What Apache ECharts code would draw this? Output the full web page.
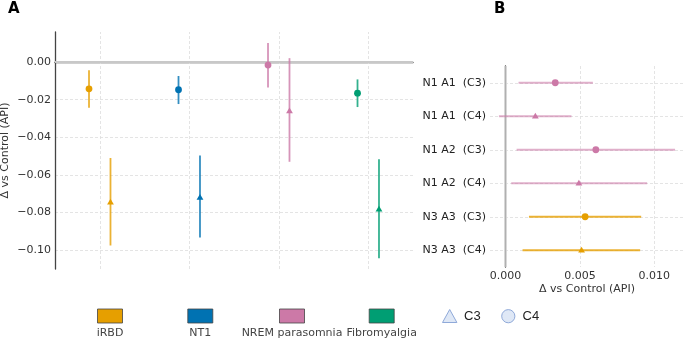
<!DOCTYPE html>
<html>
<head>
<meta charset="utf-8">
<script src="https://cdn.jsdelivr.net/npm/echarts@6/dist/echarts.min.js"></script>
<style>
html,body{margin:0;padding:0;background:#fff;}
#chart{width:685px;height:340px;}
</style>
</head>
<body>
<div id="chart"></div>
<script>
// ---- Panel A data ----
const groups = ['iRBD', 'NT1', 'NREM parasomnia', 'Fibromyalgia'];
const groupColors = ['#E69F00', '#0072B2', '#CC79A7', '#009E73'];
// circle markers (C4)
const c4Mean = [-0.0142, -0.0147, -0.0016, -0.0165];
const c4Lo   = [-0.0243, -0.0223, -0.0135, -0.0239];
const c4Hi   = [-0.0043, -0.0074,  0.0101, -0.0092];
// triangle markers (C3)
const c3Mean = [-0.0746, -0.0720, -0.0260, -0.0783];
const c3Lo   = [-0.0975, -0.0933, -0.0530, -0.1043];
const c3Hi   = [-0.0510, -0.0496,  0.0021, -0.0516];
const yTicksA = [0, -0.02, -0.04, -0.06, -0.08, -0.10];

// ---- Panel B data ----
const rowsB  = ['N1 A1  (C3)', 'N1 A1  (C4)', 'N1 A2  (C3)', 'N1 A2  (C4)', 'N3 A3  (C3)', 'N3 A3  (C4)'];
const bMean  = [0.00334, 0.00200, 0.00607, 0.00493, 0.00535, 0.00511];
const bLo    = [0.00087, -0.00045, 0.00074, 0.00038, 0.00157, 0.00114];
const bHi    = [0.00587, 0.00443, 0.01140, 0.00952, 0.00912, 0.00905];
const bShape = ['circle', 'triangle', 'circle', 'triangle', 'circle', 'triangle'];
const bGroup = [2, 2, 2, 2, 0, 0];

const FONT = 'DejaVu Sans';

function marker(shape, x, y, color, s) {
  if (shape === 'circle') {
    return { type: 'circle', shape: { cx: x, cy: y, r: 3.4 * s }, style: { fill: color } };
  }
  return { type: 'polygon', shape: { points: [[x, y - 3.6 * s], [x - 3.4 * s, y + 2.2 * s], [x + 3.4 * s, y + 2.2 * s]] }, style: { fill: color } };
}

function seriesA(mean, lo, hi, shape, offset) {
  return {
    type: 'custom', xAxisIndex: 0, yAxisIndex: 0, z: 5,
    data: groups.map((g, i) => [i, mean[i], lo[i], hi[i]]),
    renderItem: function (params, api) {
      const ci = api.value(0);
      const bw = api.size([1, 0])[0];
      const dx = offset * bw;
      const p = api.coord([ci, api.value(1)]);
      const pl = api.coord([ci, api.value(2)]);
      const ph = api.coord([ci, api.value(3)]);
      const col = groupColors[ci];
      return {
        type: 'group',
        children: [
          { type: 'line', shape: { x1: p[0] + dx, y1: pl[1], x2: p[0] + dx, y2: ph[1] }, style: { stroke: col, lineWidth: 1.8, opacity: 0.8 } },
          marker(shape, p[0] + dx, p[1], col, 1)
        ]
      };
    }
  };
}

const seriesB = {
  type: 'custom', xAxisIndex: 1, yAxisIndex: 1, z: 5,
  data: rowsB.map((r, i) => [bMean[i], i, bLo[i], bHi[i]]),
  renderItem: function (params, api) {
    const ri = api.value(1);
    const p = api.coord([api.value(0), ri]);
    const pl = api.coord([api.value(2), ri]);
    const ph = api.coord([api.value(3), ri]);
    const col = groupColors[bGroup[ri]];
    return {
      type: 'group',
      children: [
        { type: 'line', shape: { x1: pl[0], y1: p[1], x2: ph[0], y2: p[1] }, style: { stroke: col, lineWidth: 1.8, opacity: bGroup[ri] === 2 ? 0.6 : 0.8 } },
        marker(bShape[ri], p[0], p[1], col, 1)
      ]
    };
  }
};

const gridLineStyle = { color: '#dddddd', type: [3, 2], width: 0.8 };

// legend graphics
const legendX = [110, 200.3, 292, 381.7];
const graphics = [
  { type: 'text', left: 8, top: 2, style: { text: 'A', font: 'bold 15px ' + FONT, fill: '#000' } },
  { type: 'text', left: 494, top: 2, style: { text: 'B', font: 'bold 15px ' + FONT, fill: '#000' } }
];
groups.forEach((g, i) => {
  graphics.push({ type: 'rect', shape: { x: legendX[i] - 12.5, y: 309, width: 25, height: 14 }, style: { fill: groupColors[i], stroke: '#444', lineWidth: 0.8 } });
  graphics.push({ type: 'text', x: legendX[i], y: 333, style: { text: g, font: '11px ' + FONT, fill: '#444', align: 'center', verticalAlign: 'middle' } });
});
graphics.push({ type: 'polygon', shape: { points: [[449.7, 309.5], [442.5, 322.5], [456.9, 322.5]] }, style: { fill: '#dfe8f6', stroke: '#8fa9d9', lineWidth: 1 } });
graphics.push({ type: 'text', x: 464, y: 316.5, style: { text: 'C3', font: '13px Liberation Sans', fill: '#222', verticalAlign: 'middle' } });
graphics.push({ type: 'circle', shape: { cx: 508.3, cy: 316.2, r: 6.6 }, style: { fill: '#dfe8f6', stroke: '#8fa9d9', lineWidth: 1 } });
graphics.push({ type: 'text', x: 522.5, y: 316.5, style: { text: 'C4', font: '13px Liberation Sans', fill: '#222', verticalAlign: 'middle' } });

const axisLineStyle = { color: '#444', width: 1.3 };

const option = {
  animation: false,
  backgroundColor: '#fff',
  textStyle: { fontFamily: FONT },
  graphic: graphics,
  grid: [
    { left: 55, right: 272, top: 32, bottom: 71, containLabel: false, outerBoundsMode: 'none' },
    { left: 490, right: 1, top: 66, bottom: 73, containLabel: false, outerBoundsMode: 'none' }
  ],
  xAxis: [
    {
      type: 'category', gridIndex: 0, data: groups, boundaryGap: true,
      axisLine: { lineStyle: axisLineStyle },
      axisTick: { alignWithLabel: true, length: 3, lineStyle: { color: '#bbb' } },
      axisLabel: { show: false },
      splitLine: { show: false }
    },
    {
      type: 'value', gridIndex: 1, min: -0.00105, max: 0.012, splitNumber: 3,
      name: 'Δ vs Control (API)', nameLocation: 'middle', nameGap: 17, nameMoveOverlap: false,
      nameTextStyle: { fontSize: 11, color: '#333', fontFamily: FONT },
      axisLine: { lineStyle: axisLineStyle },
      axisTick: { show: false },
      axisLabel: { fontSize: 11, color: '#333', margin: 4, showMinLabel: false, showMaxLabel: false, formatter: v => v.toFixed(3) },
      splitLine: { show: true, showMinLine: false, showMaxLine: false, lineStyle: gridLineStyle }
    }
  ],
  yAxis: [
    {
      type: 'value', gridIndex: 0, min: -0.11, max: 0.016, splitNumber: 6,
      name: 'Δ vs Control (API)', nameLocation: 'middle', nameGap: 44, nameRotate: 90, nameMoveOverlap: false,
      nameTextStyle: { fontSize: 11, color: '#333', fontFamily: FONT },
      axisLine: { show: true, lineStyle: axisLineStyle },
      axisTick: { show: false },
      axisLabel: { fontSize: 11, color: '#333', margin: 4, showMinLabel: false, showMaxLabel: false,
        formatter: v => (v < 0 ? '\u2212' : '') + Math.abs(v).toFixed(2) },
      splitLine: { show: true, showMinLine: false, showMaxLine: false, lineStyle: gridLineStyle }
    },
    {
      type: 'category', gridIndex: 1, data: rowsB, inverse: true, boundaryGap: true,
      axisLine: { lineStyle: axisLineStyle },
      axisTick: { alignWithLabel: true, length: 3, lineStyle: { color: '#444' } },
      axisLabel: { fontSize: 11, color: '#222', margin: 4 },
      splitLine: { show: false }
    }
  ],
  series: [
    {
      type: 'line', xAxisIndex: 0, yAxisIndex: 0, data: [], z: 1, silent: true,
      markLine: {
        silent: true, symbol: 'none', label: { show: false }, animation: false,
        data: groups.map(g => ({ xAxis: g, lineStyle: gridLineStyle }))
          .concat([{ yAxis: 0, lineStyle: { color: '#c8c8c8', type: 'solid', width: 1.8 } }])
      }
    },
    {
      type: 'line', xAxisIndex: 1, yAxisIndex: 1, data: [], z: 1, silent: true,
      markLine: {
        silent: true, symbol: 'none', label: { show: false }, animation: false,
        data: rowsB.map(r => ({ yAxis: r, lineStyle: gridLineStyle }))
          .concat([{ xAxis: 0, lineStyle: { color: '#b0b0b0', type: 'solid', width: 1.4 } }])
      }
    },
    seriesA(c4Mean, c4Lo, c4Hi, 'circle', -0.12),
    seriesA(c3Mean, c3Lo, c3Hi, 'triangle', 0.12),
    seriesB
  ]
};

const chart = echarts.init(document.getElementById('chart'), null, { renderer: 'canvas' });
chart.setOption(option);
</script>
</body>
</html>
